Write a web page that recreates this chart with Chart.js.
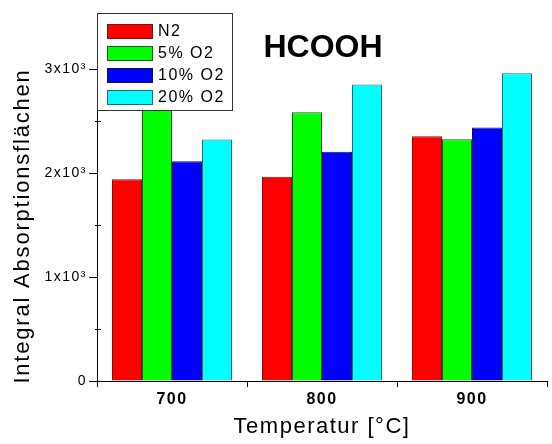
<!DOCTYPE html>
<html>
<head>
<meta charset="utf-8">
<script src="https://cdn.jsdelivr.net/npm/chart.js@4/dist/chart.umd.min.js"></script>
<style>
  body { margin: 0; background: #fff; }
</style>
</head>
<body>
<canvas id="hcoohChart" width="552" height="444"></canvas>
<script>
const temperatures = ["700", "800", "900"];
const seriesNames = ["N2", "5% O2", "10% O2", "20% O2"];
const n2Values = [1940, 1965, 2355];
const o2_5Values = [2620, 2585, 2327];
const o2_10Values = [2115, 2205, 2440];
const o2_20Values = [2323, 2853, 2960];
const yMajorTicks = [0, 1000, 2000, 3000];
const yMinorTicks = [500, 1500, 2500];
const yTickLabels = ["0", "1x10³", "2x10³", "3x10³"];

const fills = ["#ff0000", "#00ff00", "#0000ff", "#00ffff"];
const edges = ["#7a1010", "#1d5a1d", "#101060", "#2a6a70"];
const font = "'Liberation Sans', Arial, sans-serif";
const yTitle = "Integral Absorptionsflächen";

// wider letter spacing for every text on the canvas
const spacing = {
    id: "spacing",
    beforeInit(chart) { chart.ctx.letterSpacing = "1.5px"; },
    beforeDraw(chart) { chart.ctx.letterSpacing = "1.5px"; }
};

// minor y ticks cross the axis line
const minorTicks = {
    id: "minorTicks",
    afterDatasetsDraw(chart) {
        const c = chart.ctx;
        const y = chart.scales.y;
        c.save();
        c.strokeStyle = "#000";
        c.lineWidth = 1;
        c.beginPath();
        yMinorTicks.forEach(function (v) {
            let py = Math.round(y.getPixelForValue(v)) + 0.5;
            c.moveTo(y.right - 2, py);
            c.lineTo(y.right + 4, py);
        });
        c.stroke();
        c.restore();
    }
};

// legend box, title and y axis title drawn over the plot
const overlay = {
    id: "overlay",
    afterDraw(chart) {
        const c = chart.ctx;
        c.save();
        c.letterSpacing = "1.5px";
        c.fillStyle = "#fff";
        c.fillRect(97, 13, 135, 97);
        c.strokeStyle = "#333";
        c.lineWidth = 1;
        c.strokeRect(97.5, 13.5, 135, 97);
        c.font = "16px " + font;
        c.textBaseline = "middle";
        chart.data.datasets.forEach(function (ds, i) {
            let y = 31 + i * 22;
            c.fillStyle = ds.backgroundColor;
            c.fillRect(107, y - 7, 45, 14);
            c.strokeStyle = ds.borderColor;
            c.strokeRect(107.5, y - 6.5, 45, 14);
            c.fillStyle = "#000";
            c.fillText(ds.label, 158, y + 1);
        });
        c.letterSpacing = "0px";
        c.font = "bold 32px " + font;
        c.textAlign = "center";
        c.textBaseline = "alphabetic";
        c.fillText("HCOOH", 323, 57);

        c.letterSpacing = "1.8px";
        c.font = "22px " + font;
        c.textBaseline = "middle";
        c.translate(23, 226);
        c.rotate(-Math.PI / 2);
        c.fillText(yTitle, 0, 0);
        c.restore();
    }
};

let ctx = document.getElementById("hcoohChart").getContext("2d");
let allValues = [n2Values, o2_5Values, o2_10Values, o2_20Values];

new Chart(ctx, {
    type: "bar",
    data: {
        labels: temperatures,
        datasets: seriesNames.map(function (name, i) {
            return {
                label: name,
                data: allValues[i],
                backgroundColor: fills[i],
                borderColor: edges[i],
                borderWidth: 1,
                categoryPercentage: 0.8,
                barPercentage: 1.0
            };
        })
    },
    options: {
        responsive: false,
        animation: false,
        layout: { padding: { top: 38, right: 5, left: 0, bottom: 0 } },
        plugins: {
            legend: { display: false },
            tooltip: { enabled: false }
        },
        scales: {
            x: {
                grid: { drawOnChartArea: false, tickColor: "#000", tickLength: 6, offset: true },
                border: { color: "#000", width: 1 },
                ticks: { color: "#000", font: { family: font, size: 16, weight: "bold" }, padding: 3 },
                title: {
                    display: true,
                    text: "Temperatur [°C]",
                    color: "#000",
                    font: { family: font, size: 22 },
                    padding: { top: 4 }
                },
                afterFit: function (s) { s.height = 63; }
            },
            y: {
                min: 0,
                max: 3300,
                grid: { drawOnChartArea: false, tickColor: "#000", tickLength: 8 },
                border: { color: "#000", width: 1 },
                afterBuildTicks: function (s) {
                    s.ticks = yMajorTicks.map(function (v) { return { value: v }; });
                },
                ticks: {
                    autoSkip: false,
                    color: "#000",
                    font: { family: font, size: 14 },
                    padding: 2,
                    callback: function (v, i) { return yTickLabels[i]; }
                },
                afterFit: function (s) { s.width = 97; }
            }
        }
    },
    plugins: [spacing, minorTicks, overlay]
});
</script>
</body>
</html>
